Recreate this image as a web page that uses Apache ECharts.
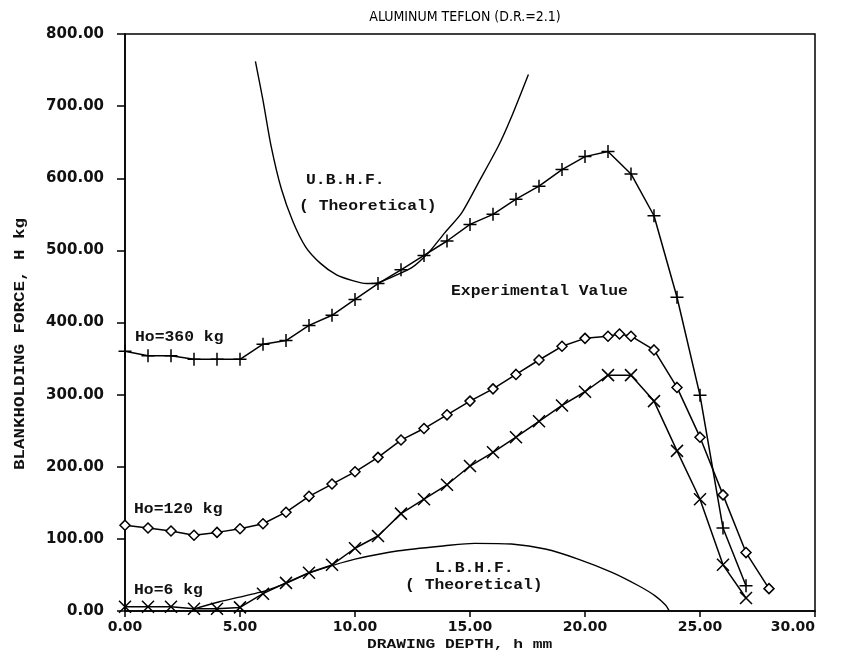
<!DOCTYPE html>
<html>
<head>
<meta charset="utf-8">
<script src="https://cdn.jsdelivr.net/npm/echarts@6/dist/echarts.min.js"></script>
<style>
  html, body { margin: 0; padding: 0; background: #fff; }
  #chart { width: 844px; height: 662px; }
</style>
</head>
<body>
<div id="chart"></div>
<script>
// Drawing depth (mm) and blankholding force (kg) for each initial holding force Ho
const depth360 = [0,1,2,3,4,5,6,7,8,9,10,11,12,13,14,15,16,17,18,19,20,21,22,23,24,25,26,27];
const force360 = [360,354,354,349,349,349,370,375,396,410,432,454,473,493,513,536,550,571,589,612,630,637,606,548,435,299,115,35];

const depth120 = [0,1,2,3,4,5,6,7,8,9,10,11,12,13,14,15,16,17,18,19,20,21,21.5,22,23,24,25,26,27,28];
const force120 = [119,115,111,105,109,114,121,137,159,176,193,213,237,253,272,291,308,328,348,367,378,381,384,381,362,310,241,161,81,31];

const depth6 = [0,1,2,3,4,5,6,7,8,9,10,11,12,13,14,15,16,17,18,19,20,21,22,23,24,25,26,27];
const force6 = [6,6,6,3,3,5,24,39,53,64,87,104,135,155,175,201,220,241,263,285,304,327,327,291,222,155,64,18];

// Theoretical upper / lower blankholding force limits
const upperDepth = [5.67,6.0,6.35,6.8,7.3,7.85,8.5,9.2,9.9,10.5,11.0,11.6,12.47,13.2,13.92,14.64,15.37,16.24,16.75,17.54];
const upperForce = [762,708,645,585,540,505,482,466,458,454,455,463,476,497,525,552,594,645,681,744];

const lowerDepth = [3.0,4.07,6.1,7.03,8.0,9.07,10.0,11.9,13.9,15.2,16.8,18.27,19.7,21.17,22.33,23.05,23.5,23.65];
const lowerForce = [3,12.5,28,39,52.6,63.7,72,83.5,90.4,93.8,92.8,85.9,72,53.6,35,21,8.3,1];

const xTicks = [0, 5, 10, 15, 20, 25, 30];
const yTicks = [0, 100, 200, 300, 400, 500, 600, 700, 800];

const pairs = (xs, ys) => xs.map((x, i) => [x, ys[i]]);

const monoFont = '"Liberation Mono", "DejaVu Sans Mono", monospace';
const tickFont = '"DejaVu Sans", sans-serif';

const plusSym = 'path://M0,5L10,5M5,0L5,10';
const crossSym = 'path://M0,0L10,10M10,0L0,10';
const diamondSym = 'path://M5,0L10,5L5,10L0,5Z';

function experimental(data, symbol, size, fill) {
  return {
    type: 'line',
    data: data,
    symbol: symbol,
    symbolSize: size,
    showSymbol: true,
    clip: false,
    lineStyle: { color: '#000', width: 1.5 },
    itemStyle: { color: fill, borderColor: '#000', borderWidth: 1.5 },
    z: 3
  };
}

function theoretical(data) {
  return {
    type: 'line',
    data: data,
    smooth: 0.25,
    showSymbol: false,
    symbol: 'none',
    lineStyle: { color: '#000', width: 1.4 },
    z: 2
  };
}

// Stretched monospace annotation text, left edge at x, vertically centred on cy
function note(text, x, cy, size, stretch, opts) {
  return Object.assign({
    type: 'text',
    x: x,
    y: cy,
    scaleX: stretch,
    style: {
      text: text,
      x: 0, y: 0,
      align: 'left',
      verticalAlign: 'middle',
      font: 'bold ' + size + 'px ' + monoFont,
      fill: '#111'
    },
    z: 10
  }, opts || {});
}

const chart = echarts.init(document.getElementById('chart'), null, { renderer: 'canvas' });

chart.setOption({
  animation: false,
  backgroundColor: '#fff',
  grid: {
    left: 125, right: 29, top: 34, bottom: 51,
    show: true, borderColor: '#000', borderWidth: 1.5, backgroundColor: 'transparent'
  },
  xAxis: {
    type: 'value',
    min: xTicks[0], max: xTicks[xTicks.length - 1], interval: 5,
    axisLine: { lineStyle: { color: '#000', width: 1.5 } },
    axisTick: { inside: false, length: 6, lineStyle: { color: '#000', width: 1.5 } },
    axisLabel: {
      margin: 9, color: '#111', fontFamily: tickFont, fontWeight: 'bold', fontSize: 14,
      alignMaxLabel: 'right',
      formatter: v => v.toFixed(2)
    },
    splitLine: { show: false }
  },
  yAxis: {
    type: 'value',
    min: yTicks[0], max: yTicks[yTicks.length - 1], interval: 100,
    axisLine: { lineStyle: { color: '#000', width: 1.5 } },
    axisTick: { inside: false, length: 8, lineStyle: { color: '#000', width: 1.5 } },
    axisLabel: {
      margin: 21, color: '#111', fontFamily: tickFont, fontWeight: 'bold', fontSize: 15,
      formatter: v => v.toFixed(2)
    },
    splitLine: { show: false }
  },
  series: [
    theoretical(pairs(upperDepth, upperForce)),
    theoretical(pairs(lowerDepth, lowerForce)),
    experimental(pairs(depth360, force360), plusSym, 13, '#000'),
    experimental(pairs(depth120, force120), diamondSym, [10, 10], '#fff'),
    experimental(pairs(depth6, force6), crossSym, 12, '#000')
  ],
  graphic: [
    {
      type: 'text',
      x: 465,
      y: 17,
      style: {
        text: 'ALUMINUM TEFLON (D.R.=2.1)',
        x: 0, y: 0,
        align: 'center',
        verticalAlign: 'middle',
        font: '14px "DejaVu Sans Condensed", "DejaVu Sans", sans-serif',
        fill: '#000'
      }
    },
    note('U.B.H.F.', 306, 180, 14, 1.17),
    note('( Theoretical)', 299, 206, 14, 1.17),
    note('Experimental Value', 451, 291, 14, 1.17),
    note('Ho=360 kg', 135, 337, 14, 1.17),
    note('Ho=120 kg', 134, 509, 14, 1.17),
    note('Ho=6 kg', 134, 590, 14, 1.17),
    note('L.B.H.F.', 435, 568, 14, 1.17),
    note('( Theoretical)', 405, 585, 14, 1.17),
    // axis titles
    note('DRAWING DEPTH, h mm', 367, 645, 13, 1.25),
    note('BLANKHOLDING FORCE, H kg', 20, 470, 14, 1.25, { rotation: Math.PI / 2 })
  ]
});
</script>
</body>
</html>
